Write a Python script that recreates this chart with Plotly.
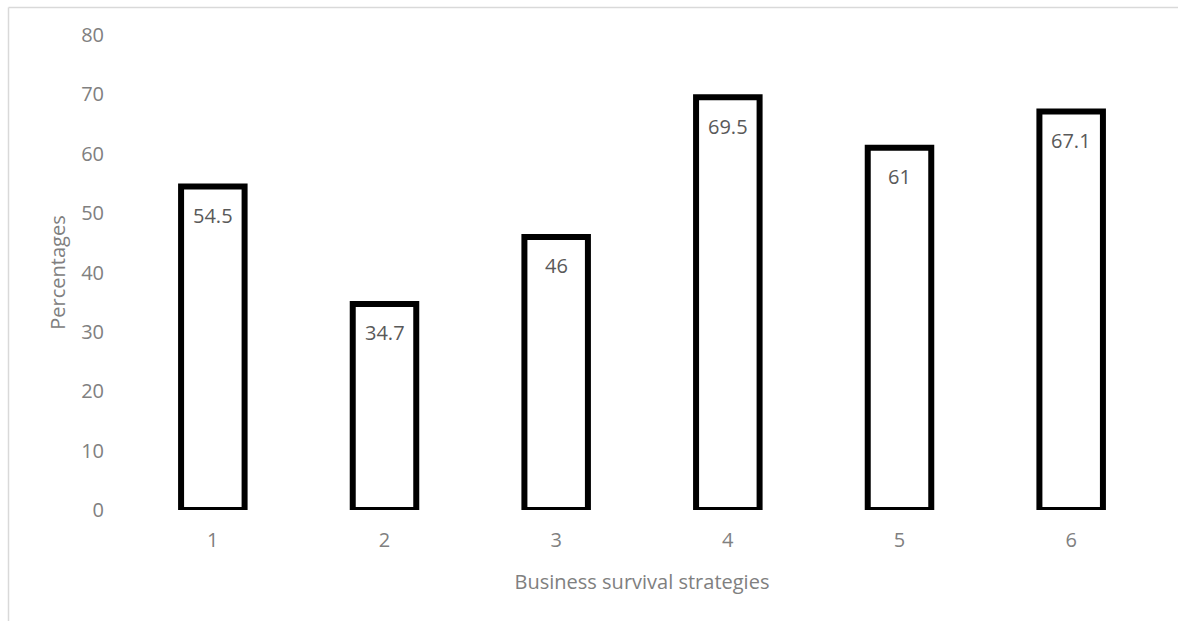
import plotly.graph_objects as go

categories = ["1", "2", "3", "4", "5", "6"]
values = [54.5, 34.7, 46, 69.5, 61, 67.1]
labels = ["54.5", "34.7", "46", "69.5", "61", "67.1"]
y_ticks = [0, 10, 20, 30, 40, 50, 60, 70, 80]

FONT = "Open Sans"
GRAY = "#808080"

fig = go.Figure(go.Bar(
    x=categories, y=values,
    marker=dict(color="white", line=dict(color="black", width=6)),
    width=0.37, cliponaxis=False, hoverinfo="x+y",
))

for i, (v, t) in enumerate(zip(values, labels)):
    fig.add_annotation(x=i, y=v, text=t, showarrow=False, yanchor="middle",
                       yshift=-29, font=dict(family=FONT, size=20, color="#595959"))

L, R, T, B = 127, 21, 35, 111
W, H = 1178, 621
pw, ph = W - L - R, H - T - B

fig.update_layout(
    width=W, height=H,
    margin=dict(l=L, r=R, t=T, b=B, pad=0),
    plot_bgcolor="white", paper_bgcolor="white",
    showlegend=False,
    font=dict(family=FONT, color=GRAY),
    xaxis=dict(
        type="category", range=[-0.5, 5.5],
        showgrid=False, zeroline=False, showline=False,
        tickfont=dict(size=20, color=GRAY),
        ticklabelstandoff=16,
        title=dict(text="Business survival strategies", font=dict(size=20, color=GRAY), standoff=22),
    ),
    yaxis=dict(
        range=[0, 80], tickvals=y_ticks, showgrid=False, zeroline=False, showline=False,
        tickfont=dict(size=20, color=GRAY),
        ticklabelstandoff=22,
        title=dict(text="Percentages", font=dict(size=20, color=GRAY), standoff=10),
    ),
    shapes=[
        dict(type="line", xref="paper", yref="paper",
             x0=(8.5 - L) / pw, x1=(W + 5 - L) / pw,
             y0=(H - B - 7.5) / ph, y1=(H - B - 7.5) / ph,
             line=dict(color="#d9d9d9", width=1.5)),
        dict(type="line", xref="paper", yref="paper",
             x0=(8.5 - L) / pw, x1=(8.5 - L) / pw,
             y0=(H - B - 7.5) / ph, y1=(H - B - H - 5) / ph,
             line=dict(color="#d9d9d9", width=1.5)),
    ],
)

fig.write_html("out.html", config={"displayModeBar": False},
               post_script="document.body.style.margin='0';")
